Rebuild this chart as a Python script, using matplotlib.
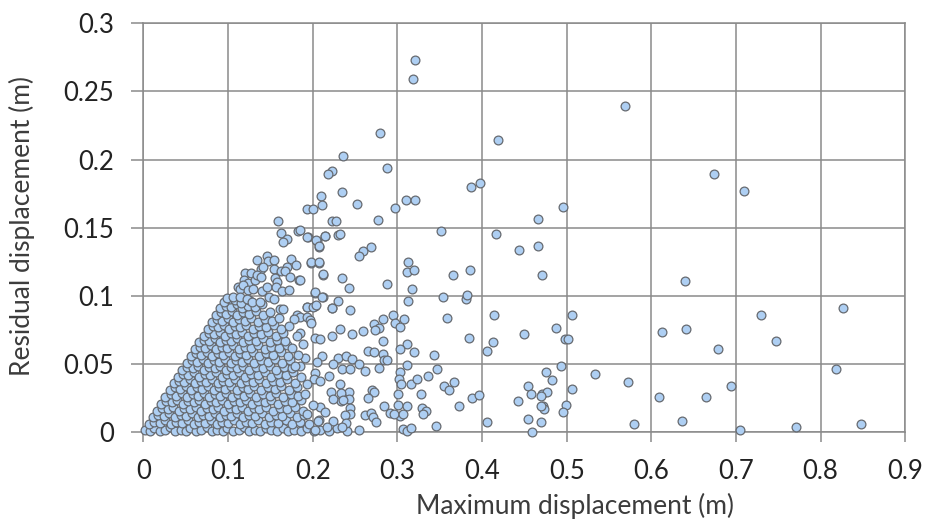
import numpy as np
import matplotlib
matplotlib.use("Agg")
import matplotlib.pyplot as plt
from matplotlib.ticker import FuncFormatter

plt.rcParams["font.family"] = ["Lato", "DejaVu Sans"]

# Dense core of the cloud (x < ~0.2)
core_points = [
    (0.002, 0.002), (0.008, 0.001), (0.013, 0.003), (0.019, 0.001), (0.026, 0.002), (0.031, 0.004),
    (0.037, 0.001), (0.044, 0.002), (0.050, 0.001), (0.055, 0.003), (0.062, 0.001), (0.068, 0.002),
    (0.075, 0.004), (0.081, 0.001), (0.087, 0.002), (0.094, 0.001), (0.099, 0.003), (0.106, 0.001),
    (0.113, 0.002), (0.119, 0.004), (0.125, 0.001), (0.132, 0.002), (0.138, 0.001), (0.145, 0.003),
    (0.151, 0.002), (0.158, 0.001), (0.165, 0.003), (0.171, 0.001), (0.178, 0.002), (0.186, 0.001),
    (0.193, 0.003), (0.201, 0.001), (0.209, 0.002), (0.219, 0.001), (0.229, 0.003), (0.241, 0.001),
    (0.006, 0.006), (0.013, 0.008), (0.019, 0.007), (0.026, 0.009), (0.033, 0.006), (0.039, 0.008),
    (0.046, 0.007), (0.053, 0.009), (0.060, 0.006), (0.066, 0.008), (0.073, 0.007), (0.080, 0.009),
    (0.087, 0.006), (0.093, 0.008), (0.100, 0.007), (0.107, 0.009), (0.114, 0.006), (0.121, 0.008),
    (0.128, 0.007), (0.135, 0.009), (0.143, 0.006), (0.151, 0.008), (0.159, 0.007), (0.168, 0.009),
    (0.176, 0.006), (0.185, 0.008), (0.196, 0.006), (0.207, 0.009),
    (0.011, 0.011), (0.017, 0.013), (0.024, 0.012), (0.030, 0.014), (0.037, 0.011), (0.044, 0.013),
    (0.050, 0.012), (0.057, 0.014), (0.064, 0.011), (0.070, 0.013), (0.077, 0.012), (0.084, 0.014),
    (0.091, 0.011), (0.097, 0.013), (0.104, 0.012), (0.111, 0.014), (0.118, 0.011), (0.125, 0.013),
    (0.132, 0.012), (0.140, 0.014), (0.148, 0.011), (0.156, 0.013), (0.164, 0.012), (0.173, 0.014),
    (0.181, 0.011), (0.190, 0.013),
    (0.016, 0.016), (0.022, 0.018), (0.029, 0.017), (0.035, 0.019), (0.042, 0.016), (0.048, 0.018),
    (0.055, 0.017), (0.062, 0.019), (0.068, 0.016), (0.075, 0.018), (0.082, 0.017), (0.088, 0.019),
    (0.095, 0.016), (0.102, 0.018), (0.109, 0.017), (0.116, 0.019), (0.123, 0.016), (0.130, 0.018),
    (0.137, 0.017), (0.145, 0.019), (0.153, 0.016), (0.161, 0.018), (0.170, 0.017), (0.179, 0.019),
    (0.188, 0.016),
    (0.021, 0.021), (0.027, 0.023), (0.034, 0.022), (0.040, 0.024), (0.047, 0.021), (0.053, 0.023),
    (0.060, 0.022), (0.066, 0.024), (0.073, 0.021), (0.080, 0.023), (0.086, 0.022), (0.093, 0.024),
    (0.100, 0.021), (0.107, 0.023), (0.114, 0.022), (0.121, 0.024), (0.128, 0.021), (0.135, 0.023),
    (0.143, 0.022), (0.151, 0.024), (0.159, 0.021), (0.167, 0.023), (0.176, 0.022), (0.186, 0.024),
    (0.026, 0.026), (0.032, 0.028), (0.038, 0.027), (0.045, 0.029), (0.051, 0.026), (0.058, 0.028),
    (0.064, 0.027), (0.071, 0.029), (0.078, 0.026), (0.084, 0.028), (0.091, 0.027), (0.098, 0.029),
    (0.105, 0.026), (0.112, 0.028), (0.119, 0.027), (0.126, 0.029), (0.133, 0.026), (0.141, 0.028),
    (0.149, 0.027), (0.157, 0.029), (0.165, 0.026), (0.174, 0.028), (0.183, 0.027),
    (0.031, 0.031), (0.037, 0.033), (0.043, 0.032), (0.050, 0.034), (0.056, 0.031), (0.063, 0.033),
    (0.069, 0.032), (0.076, 0.034), (0.083, 0.031), (0.089, 0.033), (0.096, 0.032), (0.103, 0.034),
    (0.110, 0.031), (0.117, 0.033), (0.124, 0.032), (0.131, 0.034), (0.139, 0.031), (0.147, 0.033),
    (0.155, 0.032), (0.163, 0.034), (0.172, 0.031), (0.181, 0.033),
    (0.036, 0.036), (0.042, 0.038), (0.048, 0.037), (0.055, 0.039), (0.061, 0.036), (0.068, 0.038),
    (0.074, 0.037), (0.081, 0.039), (0.088, 0.036), (0.094, 0.038), (0.101, 0.037), (0.108, 0.039),
    (0.115, 0.036), (0.122, 0.038), (0.129, 0.037), (0.137, 0.039), (0.145, 0.036), (0.153, 0.038),
    (0.161, 0.037), (0.170, 0.039), (0.179, 0.036),
    (0.041, 0.041), (0.047, 0.043), (0.053, 0.042), (0.060, 0.044), (0.066, 0.041), (0.073, 0.043),
    (0.079, 0.042), (0.086, 0.044), (0.093, 0.041), (0.099, 0.043), (0.106, 0.042), (0.113, 0.044),
    (0.120, 0.041), (0.127, 0.043), (0.135, 0.042), (0.143, 0.044), (0.151, 0.041), (0.159, 0.043),
    (0.168, 0.042), (0.177, 0.044),
    (0.046, 0.046), (0.052, 0.048), (0.058, 0.047), (0.065, 0.049), (0.071, 0.046), (0.078, 0.048),
    (0.084, 0.047), (0.091, 0.049), (0.098, 0.046), (0.104, 0.048), (0.111, 0.047), (0.118, 0.049),
    (0.125, 0.046), (0.133, 0.048), (0.141, 0.047), (0.149, 0.049), (0.157, 0.046), (0.166, 0.048),
    (0.175, 0.047),
    (0.051, 0.051), (0.057, 0.053), (0.063, 0.052), (0.070, 0.054), (0.076, 0.051), (0.083, 0.053),
    (0.089, 0.052), (0.096, 0.054), (0.103, 0.051), (0.109, 0.053), (0.116, 0.052), (0.123, 0.054),
    (0.131, 0.051), (0.139, 0.053), (0.147, 0.052), (0.155, 0.054), (0.164, 0.051), (0.173, 0.053),
    (0.056, 0.056), (0.062, 0.058), (0.068, 0.057), (0.075, 0.059), (0.081, 0.056), (0.088, 0.058),
    (0.094, 0.057), (0.101, 0.059), (0.108, 0.056), (0.114, 0.058), (0.121, 0.057), (0.129, 0.059),
    (0.137, 0.056), (0.145, 0.058), (0.153, 0.057), (0.162, 0.059), (0.171, 0.056),
    (0.061, 0.061), (0.067, 0.063), (0.073, 0.062), (0.080, 0.064), (0.086, 0.061), (0.093, 0.063),
    (0.099, 0.062), (0.106, 0.064), (0.113, 0.061), (0.120, 0.063), (0.127, 0.062), (0.135, 0.064),
    (0.143, 0.061), (0.151, 0.063), (0.160, 0.062), (0.169, 0.064),
    (0.066, 0.066), (0.072, 0.068), (0.078, 0.067), (0.085, 0.069), (0.091, 0.066), (0.098, 0.068),
    (0.104, 0.067), (0.111, 0.069), (0.118, 0.066), (0.125, 0.068), (0.133, 0.067), (0.141, 0.069),
    (0.149, 0.066), (0.158, 0.068), (0.167, 0.067),
    (0.071, 0.071), (0.077, 0.073), (0.083, 0.072), (0.090, 0.074), (0.096, 0.071), (0.103, 0.073),
    (0.109, 0.072), (0.116, 0.074), (0.123, 0.071), (0.131, 0.073), (0.139, 0.072), (0.147, 0.074),
    (0.156, 0.071), (0.165, 0.073),
    (0.076, 0.076), (0.082, 0.078), (0.088, 0.077), (0.095, 0.079), (0.101, 0.076), (0.108, 0.078),
    (0.114, 0.077), (0.121, 0.079), (0.129, 0.076), (0.137, 0.078), (0.145, 0.077), (0.154, 0.079),
    (0.163, 0.076),
    (0.081, 0.081), (0.087, 0.083), (0.093, 0.082), (0.100, 0.084), (0.106, 0.081), (0.113, 0.083),
    (0.120, 0.082), (0.127, 0.084), (0.135, 0.081), (0.143, 0.083), (0.152, 0.082), (0.160, 0.084),
    (0.086, 0.086), (0.092, 0.088), (0.098, 0.087), (0.105, 0.089), (0.111, 0.086), (0.118, 0.088),
    (0.125, 0.087), (0.133, 0.089), (0.141, 0.086), (0.150, 0.088),
    (0.091, 0.091), (0.097, 0.093), (0.103, 0.092), (0.110, 0.094), (0.116, 0.091), (0.124, 0.093),
    (0.132, 0.092), (0.140, 0.094),
    (0.095, 0.096), (0.102, 0.098), (0.108, 0.097), (0.115, 0.095), (0.125, 0.097),
]

# Fringe of the cloud, x between ~0.1 and ~0.26
fringe_points = [
    (0.1593, 0.1553), (0.1625, 0.1460), (0.1700, 0.1416), (0.1645, 0.1397), (0.1826, 0.1480),
    (0.1941, 0.1431), (0.2047, 0.1406), (0.2078, 0.1362), (0.2145, 0.1441), (0.2303, 0.1450),
    (0.1338, 0.1262), (0.1456, 0.1294), (0.1475, 0.1257), (0.1543, 0.1262), (0.1740, 0.1272),
    (0.1799, 0.1230), (0.1980, 0.1243), (0.2078, 0.1243), (0.1393, 0.1197), (0.1416, 0.1216),
    (0.1200, 0.1172), (0.1270, 0.1172), (0.1543, 0.1197), (0.1625, 0.1184), (0.1693, 0.1216),
    (0.1673, 0.1186), (0.1551, 0.1135), (0.1582, 0.1103), (0.1728, 0.1138), (0.1842, 0.1118),
    (0.2125, 0.1157), (0.1188, 0.1118), (0.1232, 0.1098), (0.1318, 0.1116), (0.1345, 0.1155),
    (0.1393, 0.1138), (0.1113, 0.1065), (0.1144, 0.1050), (0.1172, 0.1079), (0.1239, 0.1045),
    (0.1298, 0.1054), (0.1397, 0.1040), (0.1456, 0.1065), (0.1566, 0.1065), (0.1637, 0.1040),
    (0.1723, 0.1045), (0.1487, 0.0996), (0.1543, 0.0981), (0.2027, 0.1025), (0.2118, 0.0996),
    (0.0983, 0.0984), (0.1061, 0.0996), (0.1141, 0.0991), (0.1220, 0.0977), (0.1279, 0.0959),
    (0.1377, 0.0959), (0.1613, 0.0903), (0.1645, 0.0903), (0.1811, 0.0861), (0.1929, 0.0922),
    (0.2027, 0.0927), (0.2225, 0.0910),
    (0.1850, 0.0849), (0.1929, 0.0849), (0.1969, 0.0824), (0.1984, 0.0800), (0.1850, 0.0726),
    (0.1905, 0.0549), (0.1850, 0.0490), (0.1850, 0.1119), (0.1850, 0.1488), (0.1780, 0.0830),
    (0.1720, 0.0780), (0.1810, 0.0710), (0.1760, 0.0620), (0.1830, 0.0570), (0.1790, 0.0490),
    (0.1860, 0.0410), (0.1890, 0.0650),
    (0.2429, 0.0300), (0.2429, 0.0249), (0.2331, 0.0230), (0.2441, 0.0183), (0.2441, 0.0136),
    (0.2378, 0.0127), (0.2398, 0.0068), (0.2343, 0.0038), (0.2244, 0.0085), (0.2197, 0.0414),
    (0.2323, 0.0353), (0.2331, 0.0289), (0.2213, 0.0294), (0.2244, 0.0244), (0.2362, 0.0235),
    (0.2031, 0.0436), (0.2020, 0.0392), (0.2087, 0.0377), (0.1937, 0.0357), (0.1909, 0.0284),
    (0.2087, 0.0186), (0.2008, 0.0198), (0.1929, 0.0136), (0.2146, 0.0149), (0.2067, 0.0087),
    (0.2165, 0.0038), (0.2028, 0.0021),
]

# Scattered points, x > ~0.19
outer_points = [
    (0.3210, 0.2730), (0.3190, 0.2590), (0.2790, 0.2196), (0.4190, 0.2144), (0.2360, 0.2030),
    (0.2228, 0.1915), (0.2177, 0.1895), (0.2878, 0.1937), (0.2094, 0.1732), (0.2114, 0.1668),
    (0.2343, 0.1760), (0.2527, 0.1677), (0.1936, 0.1636), (0.2007, 0.1636), (0.2228, 0.1553),
    (0.2275, 0.1553), (0.2776, 0.1556), (0.2977, 0.1646), (0.3107, 0.1707), (0.3209, 0.1707),
    (0.3875, 0.1802), (0.3978, 0.1831), (0.4660, 0.1563), (0.4959, 0.1655), (0.3513, 0.1475),
    (0.5690, 0.2394), (0.6744, 0.1895), (0.7090, 0.1770), (0.6393, 0.1108), (0.6125, 0.0735),
    (0.6410, 0.0757), (0.6790, 0.0612), (0.7290, 0.0859), (0.7476, 0.0673), (0.8260, 0.0910),
    (0.8178, 0.0466), (0.5727, 0.0373), (0.5790, 0.0062), (0.6094, 0.0260), (0.6640, 0.0260),
    (0.6940, 0.0341), (0.6360, 0.0082), (0.7047, 0.0020), (0.7710, 0.0040), (0.8478, 0.0062),
    (0.4161, 0.1453), (0.1937, 0.1434), (0.2043, 0.1409), (0.2142, 0.1443), (0.2327, 0.1453),
    (0.2075, 0.1370), (0.2594, 0.1328), (0.2543, 0.1296), (0.2693, 0.1360), (0.4441, 0.1338),
    (0.4657, 0.1370), (0.1984, 0.1247), (0.2079, 0.1247), (0.2126, 0.1163), (0.2343, 0.1129),
    (0.2425, 0.1058), (0.2878, 0.1090), (0.3122, 0.1247), (0.3118, 0.1180), (0.3193, 0.1193),
    (0.3177, 0.1055), (0.3657, 0.1151), (0.3858, 0.1193), (0.4709, 0.1151), (0.2024, 0.1028),
    (0.2110, 0.0994), (0.3543, 0.0994), (0.3811, 0.0982), (0.3827, 0.1006), (0.3122, 0.0964),
    (0.2295, 0.0964), (0.2228, 0.0910), (0.2441, 0.0900), (0.1929, 0.0918), (0.2008, 0.0918),
    (0.2039, 0.0935), (0.2945, 0.0859), (0.2827, 0.0829), (0.2724, 0.0795), (0.2780, 0.0763),
    (0.2740, 0.0748), (0.2976, 0.0805), (0.3031, 0.0776), (0.3079, 0.0829), (0.3591, 0.0837),
    (0.4142, 0.0859), (0.5063, 0.0859), (0.2591, 0.0746), (0.2461, 0.0724), (0.2327, 0.0756),
    (0.2228, 0.0704), (0.2024, 0.0694), (0.2087, 0.0684), (0.3843, 0.0692), (0.4492, 0.0724),
    (0.4874, 0.0768), (0.4980, 0.0684), (0.5012, 0.0684), (0.4126, 0.0662), (0.4063, 0.0598),
    (0.2827, 0.0674), (0.3110, 0.0652), (0.3031, 0.0613), (0.3193, 0.0591), (0.3429, 0.0569),
    (0.2657, 0.0598), (0.2724, 0.0588), (0.2827, 0.0576), (0.2843, 0.0534), (0.2882, 0.0529),
    (0.2110, 0.0560), (0.2055, 0.0514), (0.2295, 0.0549), (0.2394, 0.0559), (0.2469, 0.0537),
    (0.2244, 0.0500), (0.2343, 0.0463), (0.2441, 0.0463), (0.2543, 0.0505), (0.2614, 0.0453),
    (0.2780, 0.0475), (0.3110, 0.0495), (0.3472, 0.0466), (0.3031, 0.0441), (0.3016, 0.0392),
    (0.3047, 0.0357), (0.3161, 0.0357), (0.3228, 0.0389), (0.3358, 0.0412), (0.3555, 0.0340),
    (0.3610, 0.0308), (0.3673, 0.0367), (0.3276, 0.0279), (0.3724, 0.0196), (0.3886, 0.0254),
    (0.3961, 0.0277), (0.3008, 0.0279), (0.3008, 0.0205), (0.3110, 0.0196), (0.3291, 0.0183),
    (0.3339, 0.0156), (0.3307, 0.0136), (0.3031, 0.0122), (0.2913, 0.0144), (0.2960, 0.0139),
    (0.3071, 0.0136), (0.2843, 0.0196), (0.2614, 0.0131), (0.2685, 0.0141), (0.2717, 0.0112),
    (0.2748, 0.0077), (0.3457, 0.0048), (0.3071, 0.0023), (0.3118, 0.0014), (0.3165, 0.0033),
    (0.2543, 0.0018), (0.2697, 0.0308), (0.2724, 0.0296), (0.2657, 0.0251), (0.4543, 0.0340),
    (0.4583, 0.0279), (0.4429, 0.0232), (0.4713, 0.0284), (0.4764, 0.0299), (0.4701, 0.0270),
    (0.4717, 0.0196), (0.4732, 0.0171), (0.4693, 0.0194), (0.4756, 0.0444), (0.4827, 0.0382),
    (0.4929, 0.0485), (0.5339, 0.0431), (0.5063, 0.0316), (0.4988, 0.0205), (0.4957, 0.0151),
    (0.4693, 0.0077), (0.4543, 0.0097), (0.4594, 0.0006), (0.4059, 0.0077),
]

x_ticks = [0, 0.1, 0.2, 0.3, 0.4, 0.5, 0.6, 0.7, 0.8, 0.9]
y_ticks = [0, 0.05, 0.1, 0.15, 0.2, 0.25, 0.3]
x_label = "Maximum displacement (m)"
y_label = "Residual displacement (m)"

pts = np.array(core_points + fringe_points + outer_points)

fig = plt.figure(figsize=(9.28, 5.26), dpi=100)
ax = fig.add_axes([0.1546, 0.1778, 0.8209, 0.7779])

grid_col = "#8a8a8a"
ax.scatter(pts[:, 0], pts[:, 1], s=40, c="#aecff3", edgecolors="#666a70",
           linewidths=0.9, zorder=3, clip_on=False)

ax.set_xlim(0, 0.9)
ax.set_ylim(0, 0.3)
ax.set_xticks(x_ticks)
ax.set_yticks(y_ticks)
fmt = FuncFormatter(lambda v, p: "%g" % round(v, 3))
ax.xaxis.set_major_formatter(fmt)
ax.yaxis.set_major_formatter(fmt)

ax.grid(True, color=grid_col, linewidth=1.1, zorder=0)
ax.set_axisbelow(True)
for sp in ax.spines.values():
    sp.set_color(grid_col)
    sp.set_linewidth(1.1)

ax.tick_params(axis="both", direction="out", width=1.1, color=grid_col,
               labelsize=18.5, labelcolor="#222222")
ax.tick_params(axis="x", length=7, pad=12)
ax.tick_params(axis="y", length=9, pad=12)

ax.set_xlabel(x_label, fontsize=19, color="#3c3c3c")
ax.set_ylabel(y_label, fontsize=19, color="#3c3c3c")
ax.xaxis.set_label_coords(0.567, -0.147)
ax.yaxis.set_label_coords(-0.142, 0.505)

fig.savefig("out.png", dpi=100)
